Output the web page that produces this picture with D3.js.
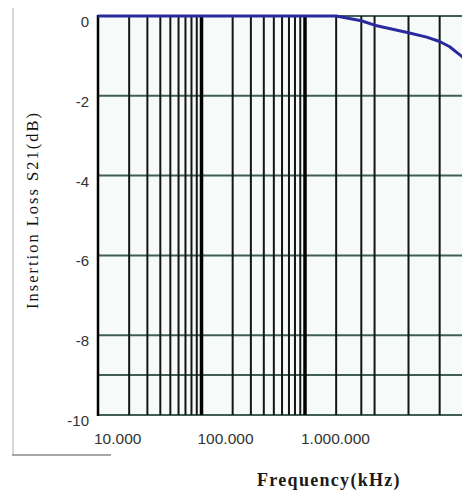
<!DOCTYPE html>
<html>
<head>
<meta charset="utf-8">
<script src="https://cdn.jsdelivr.net/npm/d3@7"></script>
<style>
  body { margin: 0; background: #fff; overflow: hidden; }
  svg { display: block; }
</style>
</head>
<body>
<div id="chart"></div>
<script>
// Datos de la curva (frecuencia en kHz, pérdida en dB)
const freqs = [1e4, 1e5, 1e6, 2e6, 3.5e6, 4.7e6, 1e7, 1.5e7, 2e7, 2.5e7, 3.3e7, 4e7];
const loss = [0, 0, 0, 0, -0.12, -0.23, -0.42, -0.53, -0.64, -0.77, -1.02, -1.25];

// Rejilla vertical y ticks
const gridMinor = [2e4, 3e4, 4e4, 5e4, 6e4, 7e4, 8e4, 9e4,
                   2e5, 3e5, 4e5, 5e5, 6e5, 7e5, 8e5, 9e5,
                   2e6, 3.5e6, 4.7e6, 1e7, 2e7];
const gridMajor = [1e5, 1e6];
const xTicks = [1e4, 1e5, 1e6];
const yTicks = [0, -2, -4, -6, -8, -10];
const yGrid = [0, -2, -4, -6, -8, -9, -10];

const W = 462, H = 497;
const COLOR_LINE = '#2a2a9e', COLOR_HGRID = '#3e5e57', COLOR_VGRID = '#151515';

let svg = d3.select('#chart').append('svg')
    .attr('width', W)
    .attr('height', H);

let x = d3.scaleLog()
    .domain([1e4, 1e8])
    .range([98, 98 + 4 * 103.5]);

let y = d3.scaleLinear()
    .domain([-10, 0])
    .range([415, 16]);

let fmt = d3.formatLocale({decimal: ',', thousands: '.', grouping: [3], currency: ['', '']}).format(',');

//Marco gris exterior
svg.append('line').attr('x1', 13).attr('x2', 13).attr('y1', 8).attr('y2', 455)
    .attr('stroke', '#c8c8c8').attr('stroke-width', 1.5);
svg.append('line').attr('x1', 12).attr('x2', 111).attr('y1', 455).attr('y2', 455)
    .attr('stroke', '#8a8a8a').attr('stroke-width', 1.5);

//Fondo del área
svg.append('rect')
    .attr('x', x(1e4)).attr('y', y(0))
    .attr('width', W - x(1e4)).attr('height', y(-10) - y(0))
    .attr('fill', '#f6fbfa');

//Rejilla horizontal
svg.append('g').selectAll('line')
    .data(yGrid).enter().append('line')
    .attr('x1', x(1e4)).attr('x2', x.range()[1])
    .attr('y1', d => y(d)).attr('y2', d => y(d))
    .attr('stroke', COLOR_HGRID).attr('stroke-width', 2);

//Rejilla vertical
svg.append('g').selectAll('line')
    .data(gridMinor).enter().append('line')
    .attr('x1', d => x(d)).attr('x2', d => x(d))
    .attr('y1', y(0)).attr('y2', y(-10))
    .attr('stroke', COLOR_VGRID).attr('stroke-width', 2);

svg.append('g').selectAll('line')
    .data(gridMajor).enter().append('line')
    .attr('x1', d => x(d)).attr('x2', d => x(d))
    .attr('y1', y(0)).attr('y2', y(-10))
    .attr('stroke', '#000').attr('stroke-width', 3.5);

svg.append('line')
    .attr('x1', x(1e4)).attr('x2', x(1e4))
    .attr('y1', y(0) - 1).attr('y2', y(-10) + 1)
    .attr('stroke', '#000').attr('stroke-width', 2.5);

//Curva
let line = d3.line()
    .x((d, i) => x(freqs[i]))
    .y(d => y(d));

svg.append('path')
    .datum(loss)
    .attr('d', line)
    .attr('fill', 'none')
    .attr('stroke', COLOR_LINE)
    .attr('stroke-width', 3)
    .attr('stroke-linejoin', 'round');

//Etiquetas eje Y
svg.append('g').selectAll('text')
    .data(yTicks).enter().append('text')
    .attr('x', 89)
    .attr('y', d => y(d) + 11)
    .attr('text-anchor', 'end')
    .attr('font-family', 'Liberation Sans, Arial, sans-serif')
    .attr('font-size', 15)
    .attr('fill', '#333')
    .text(d => d);

//Etiquetas eje X
svg.append('g').selectAll('text')
    .data(xTicks).enter().append('text')
    .attr('x', d => x(d) - 4)
    .attr('y', 444)
    .attr('text-anchor', 'start')
    .attr('font-family', 'Liberation Sans, Arial, sans-serif')
    .attr('font-size', 15.5)
    .attr('fill', '#333')
    .text(d => fmt(d));

//Títulos
svg.append('text')
    .attr('transform', 'translate(38,210) rotate(-90)')
    .attr('text-anchor', 'middle')
    .attr('font-family', 'Liberation Serif, Times New Roman, serif')
    .attr('font-size', 16.5)
    .attr('letter-spacing', 2)
    .attr('fill', '#111')
    .text('Insertion Loss S21(dB)');

svg.append('text')
    .attr('x', 329)
    .attr('y', 486)
    .attr('text-anchor', 'middle')
    .attr('font-family', 'Liberation Serif, Times New Roman, serif')
    .attr('font-size', 18)
    .attr('font-weight', 'bold')
    .attr('letter-spacing', 1.3)
    .attr('fill', '#1a1a1a')
    .text('Frequency(kHz)');
</script>
</body>
</html>
